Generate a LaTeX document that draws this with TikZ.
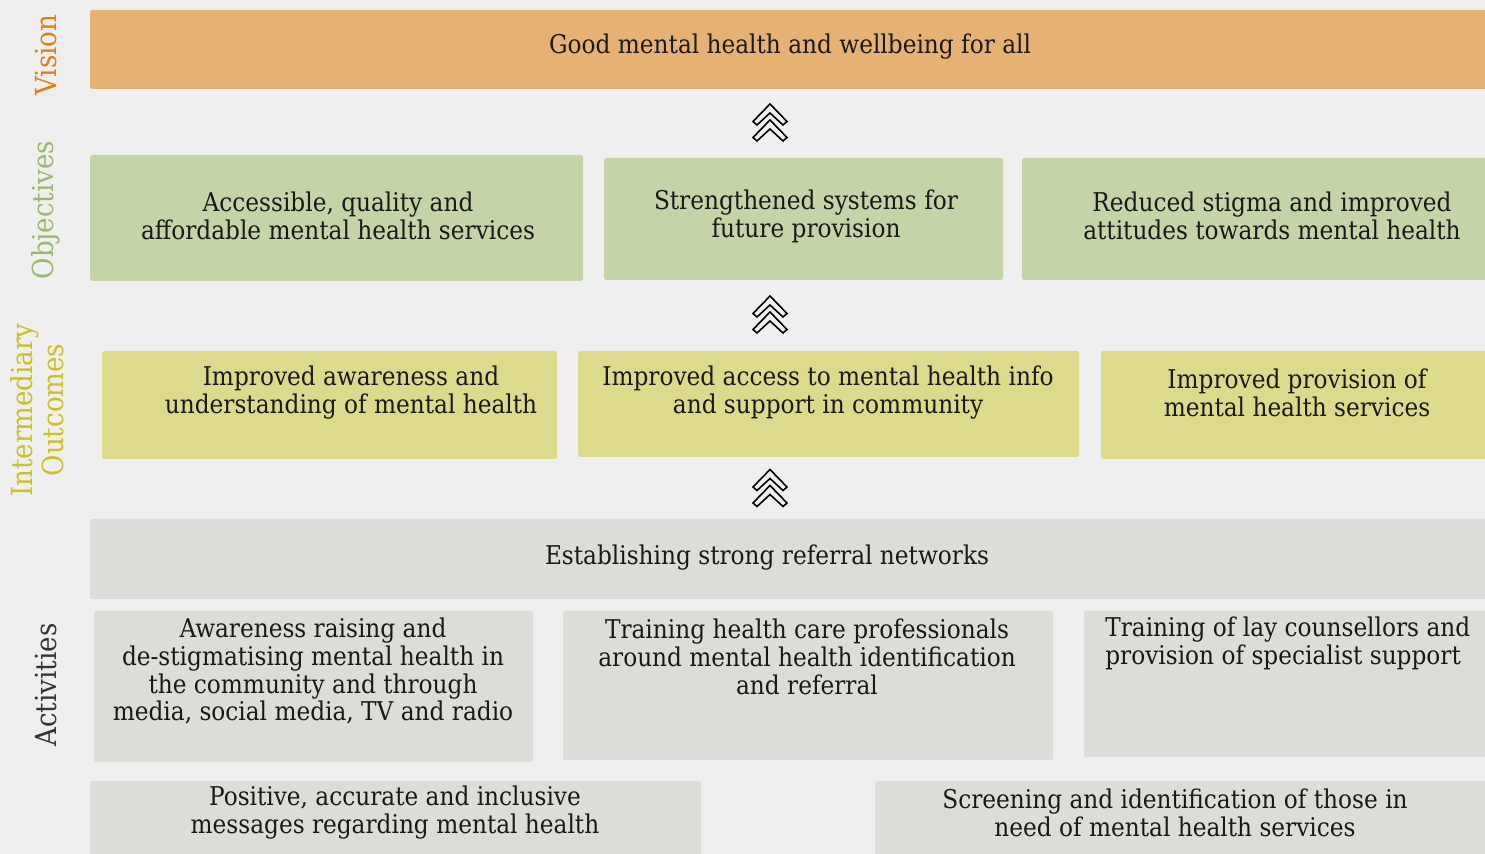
\documentclass[tikz,border=0pt]{standalone}
\usepackage{fontspec}
\setmainfont{DejaVu Serif Condensed}
\usetikzlibrary{positioning, fit}

\definecolor{bgcol}{HTML}{EFEFEF}
\definecolor{visfill}{HTML}{E5B274}
\definecolor{objfill}{HTML}{C5D4A7}
\definecolor{outfill}{HTML}{DEDA8B}
\definecolor{actfill}{HTML}{DEDCD8}
\definecolor{vistext}{HTML}{E27E12}
\definecolor{objtext}{HTML}{9CB86C}
\definecolor{outtext}{HTML}{CFBF20}
\definecolor{acttext}{HTML}{2F3538}

\tikzset{
    tier/.style={inner sep=0pt, rounded corners=1pt},
    visbox/.style={tier, fill=visfill},
    objbox/.style={tier, fill=objfill},
    outbox/.style={tier, fill=outfill},
    actbox/.style={tier, fill=actfill},
    txt/.style={align=center, inner sep=0pt, text=black!90, font=\fontsize{14.7}{15.9}\selectfont},
    side/.style={rotate=90, align=center, inner sep=0pt, font=\fontsize{16.5}{17.3}\selectfont},
    chev/.pic={
        \draw [line width=0.9pt, fill=bgcol] (0,-19.5) -- (17,-2) -- (13,1.5) -- (0,-10.5) -- (-13,1.5) -- (-17,-2) -- cycle;
        \draw [line width=0.9pt, fill=bgcol] (0,-3.5) -- (17,14) -- (13,17.5) -- (0,5.5) -- (-13,17.5) -- (-17,14) -- cycle;
    }
}

\begin{document}
\begin{tikzpicture}[x=0.02cm, y=-0.02cm]
    \clip (0,0) rectangle (1485,854);
    \fill [bgcol] (0,0) rectangle (1485,854);

    % side labels
    \node [side, text=vistext] (lvis) at (46,55) {Vision};
    \node [side, text=objtext] (lobj) at (46,210) {Objectives};
    \node [side, text=outtext] (lout) at (37,410) {Intermediary\\Outcomes};
    \node [side, text=acttext] (lact) at (46,685) {Activities};

    % vision
    \node [visbox, fit={(90,10) (1500,89)}] (vis) {};
    \node [txt] (vist) at (790,47) {Good mental health and wellbeing for all};

    % objectives
    \node [objbox, fit={(90,155) (583,281)}] (obj1) {};
    \node [objbox, fit={(604,158) (1003,280)}] (obj2) {};
    \node [objbox, fit={(1022,158) (1500,280)}] (obj3) {};
    \node [txt] (obj1t) at (338,216) {Accessible, quality and\\affordable mental health services};
    \node [txt] (obj2t) at (806,216) {Strengthened systems for\\future provision};
    \node [txt] (obj3t) at (1272,216) {Reduced stigma and improved\\attitudes towards mental health};

    % intermediary outcomes
    \node [outbox, fit={(102,351) (557,459)}] (out1) {};
    \node [outbox, fit={(578,351) (1079,457)}] (out2) {};
    \node [outbox, fit={(1101,351) (1500,459)}] (out3) {};
    \node [txt] (out1t) at (351,393) {Improved awareness and\\understanding of mental health};
    \node [txt] (out2t) at (828,393) {Improved access to mental health info\\and support in community};
    \node [txt] (out3t) at (1297,393) {Improved provision of\\mental health services};

    % activities
    \node [actbox, fit={(90,519) (1500,599)}] (ref) {};
    \node [txt] (reft) at (767,558) {Establishing strong referral networks};

    \node [actbox, fit={(94,611) (533,762)}] (act1) {};
    \node [actbox, fit={(563,611) (1053,760)}] (act2) {};
    \node [actbox, fit={(1084,611) (1500,757)}] (act3) {};
    \node [txt] (act1t) at (313,671) {Awareness raising and\\de-stigmatising mental health in\\the community and through\\media, social media, TV and radio};
    \node [txt] (act2t) at (807,657) {Training health care professionals\\around mental health identification\\and referral};
    \node [txt, align=left, anchor=west] (act3t) at (1105,643) {Training of lay counsellors and\\provision of specialist support};

    \node [actbox, fit={(90,781) (701,870)}] (bot1) {};
    \node [actbox, fit={(875,781) (1500,870)}] (bot2) {};
    \node [txt] (bot1t) at (395,813) {Positive, accurate and inclusive\\messages regarding mental health};
    \node [txt] (bot2t) at (1175,813) {Screening and identification of those in\\need of mental health services};

    % chevrons
    \pic at (770,123.5) {chev};
    \pic at (770,315.5) {chev};
    \pic at (770,489) {chev};
\end{tikzpicture}
\end{document}
